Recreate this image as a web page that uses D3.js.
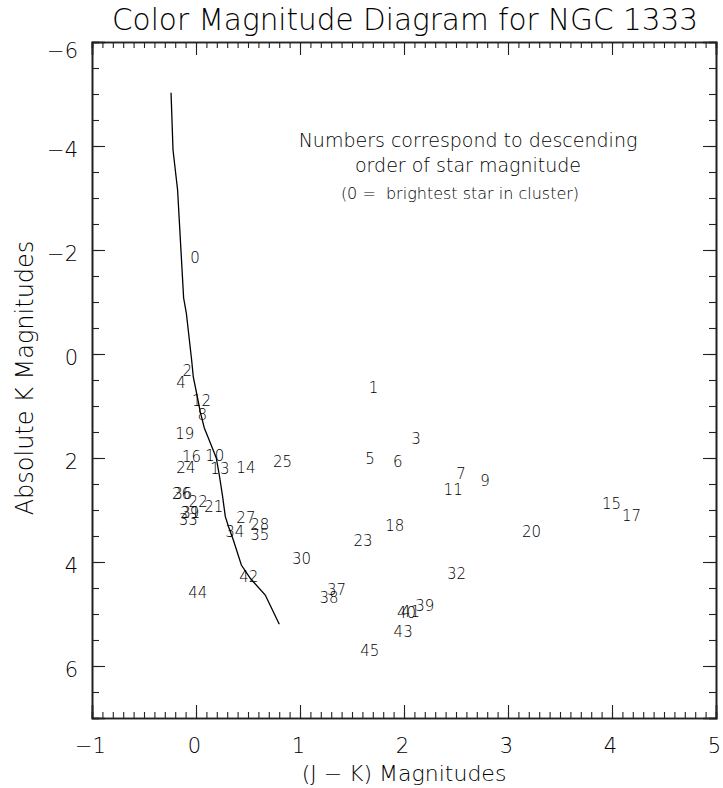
<!DOCTYPE html>
<html>
<head>
<meta charset="utf-8">
<script src="https://d3js.org/d3.v7.min.js"></script>
<style>
  body { margin: 0; background: #fff; }
  svg text { font-family: "DejaVu Sans", sans-serif; font-weight: 200; fill: #000; }
  .axis path, .axis line { stroke: #222; }
</style>
</head>
<body>
<svg id="chart"></svg>
<script>
// star labels (number = rank in brightness), J-K colour and absolute K magnitude
var starIds = [0, 1, 2, 3, 4, 5, 6, 7, 8, 9, 10, 11, 12, 13, 14, 15, 16, 17, 18, 19, 20, 21, 22,
  23, 24, 25, 26, 27, 28, 29, 30, 31, 32, 33, 34, 35, 36, 37, 38, 39, 40, 41, 42, 43, 44, 45];
var starJK = [-0.055, 1.66, -0.129, 2.07, -0.189, 1.628, 1.894, 2.503, 0.015, 2.734, 0.089, 2.381,
  -0.038, 0.138, 0.388, 3.904, -0.135, 4.096, 1.82, -0.199, 3.135, 0.08, -0.071, 1.515, -0.189,
  0.74, -0.231, 0.388, 0.522, -0.151, 0.923, -0.141, 2.413, -0.167, 0.282, 0.522, -0.218, 1.26,
  1.188, 2.109, 1.933, 1.971, 0.416, 1.9, -0.074, 1.58];
var starMK = [-1.744, 0.744, 0.423, 1.737, 0.66, 2.121, 2.167, 2.398, 1.269, 2.538, 2.052, 2.717,
  1.0, 2.308, 2.294, 2.987, 2.071, 3.206, 3.398, 1.64, 3.525, 3.033, 2.937, 3.692, 2.294,
  2.167, 2.794, 3.256, 3.385, 3.16, 4.038, 3.154, 4.333, 3.288, 3.513, 3.577, 2.794, 4.635,
  4.783, 4.937, 5.083, 5.058, 4.385, 5.448, 4.692, 5.802];

// main sequence curve
var curveJK = [-0.240, -0.221, -0.177, -0.119, -0.093, -0.042, -0.026, 0.013, 0.041, 0.080, 0.138,
  0.195, 0.224, 0.256, 0.282, 0.313, 0.359, 0.436, 0.522, 0.666, 0.801];
var curveMK = [-5.025, -3.923, -3.154, -1.077, -0.788, 0.115, 0.442, 0.827, 1.115, 1.423, 1.712,
  2.0, 2.327, 2.744, 3.129, 3.321, 3.577, 4.058, 4.313, 4.635, 5.198];

var xTicks = [-1, 0, 1, 2, 3, 4, 5];
var yTicks = [-6, -4, -2, 0, 2, 4, 6];

var width = 723, height = 788;
var plotLeft = 92, plotRight = 716, plotTop = 42, plotBottom = 718;

var svg = d3.select("#chart")
  .attr("width", width)
  .attr("height", height);

var x = d3.scaleLinear().domain([-1, 5]).range([plotLeft, plotRight]);
var y = d3.scaleLinear().domain([-6, 7]).range([plotTop, plotBottom]);

var fmt = function (d) { return d < 0 ? "\u2212" + Math.abs(d) : d; };

// minor ticks first, then majors with labels
var xMinor = d3.range(-1, 5.0001, 0.1);
var yMinor = d3.range(-6, 7.0001, 0.5);

function addAxis(gen, tr) {
  var g = svg.append("g").attr("class", "axis").attr("transform", tr).call(gen);
  g.select(".domain").attr("stroke-width", 1.6);
  g.selectAll(".tick line").attr("stroke-width", 1.1);
  return g;
}

addAxis(d3.axisBottom(x).tickValues(xMinor).tickSize(-6).tickFormat(""), "translate(0," + plotBottom + ")");
addAxis(d3.axisTop(x).tickValues(xMinor).tickSize(-6).tickFormat(""), "translate(0," + plotTop + ")");
addAxis(d3.axisLeft(y).tickValues(yMinor).tickSize(-7).tickFormat(""), "translate(" + plotLeft + ",0)");
addAxis(d3.axisRight(y).tickValues(yMinor).tickSize(-7).tickFormat(""), "translate(" + plotRight + ",0)");

var xb = addAxis(d3.axisBottom(x).tickValues(xTicks).tickSize(-13).tickPadding(20).tickFormat(fmt), "translate(0," + plotBottom + ")");
xb.selectAll(".tick text").style("font-size", "21px").attr("dx", "-0.1em");
addAxis(d3.axisTop(x).tickValues(xTicks).tickSize(-13).tickFormat(""), "translate(0," + plotTop + ")");

var yl = addAxis(d3.axisLeft(y).tickValues(yTicks).tickSize(-13).tickPadding(14).tickFormat(fmt), "translate(" + plotLeft + ",0)");
yl.selectAll(".tick text").style("font-size", "21px")
  .attr("dy", function (d) { return d === -6 ? "0.75em" : "0.5em"; });
addAxis(d3.axisRight(y).tickValues(yTicks).tickSize(-13).tickFormat(""), "translate(" + plotRight + ",0)");
svg.selectAll(".axis .tick text").attr("fill", "#000");

// main sequence line
var line = d3.line()
  .x(function (d) { return x(d[0]); })
  .y(function (d) { return y(d[1]); });

svg.append("path")
  .datum(d3.zip(curveJK, curveMK))
  .attr("d", line)
  .attr("fill", "none")
  .attr("stroke", "#000")
  .attr("stroke-width", 1.3);

// star numbers
svg.selectAll(".star")
  .data(starIds)
  .enter()
  .append("text")
  .attr("class", "star")
  .attr("x", function (d, i) { return x(starJK[i]); })
  .attr("y", function (d, i) { return y(starMK[i]); })
  .style("font-size", "15px")
  .text(function (d) { return d; });

// titles
svg.append("text")
  .attr("x", 405).attr("y", 30)
  .attr("text-anchor", "middle")
  .style("font-size", "29.5px")
  .text("Color Magnitude Diagram for NGC 1333");

svg.append("text")
  .attr("x", 404).attr("y", 781)
  .attr("text-anchor", "middle")
  .style("font-size", "22px")
  .text("(J \u2212 K) Magnitudes");

svg.append("text")
  .attr("transform", "translate(33,378) rotate(-90)")
  .attr("text-anchor", "middle")
  .style("font-size", "24px")
  .text("Absolute K Magnitudes");

var note = svg.append("g").attr("text-anchor", "middle");
note.append("text").attr("x", 468).attr("y", 147).style("font-size", "19px")
  .text("Numbers correspond to descending");
note.append("text").attr("x", 468).attr("y", 172).style("font-size", "19px")
  .text("order of star magnitude");
note.append("text").attr("x", 460).attr("y", 199).style("font-size", "16px")
  .style("white-space", "pre").attr("xml:space", "preserve")
  .text("(0 =  brightest star in cluster)");
</script>
</body>
</html>
